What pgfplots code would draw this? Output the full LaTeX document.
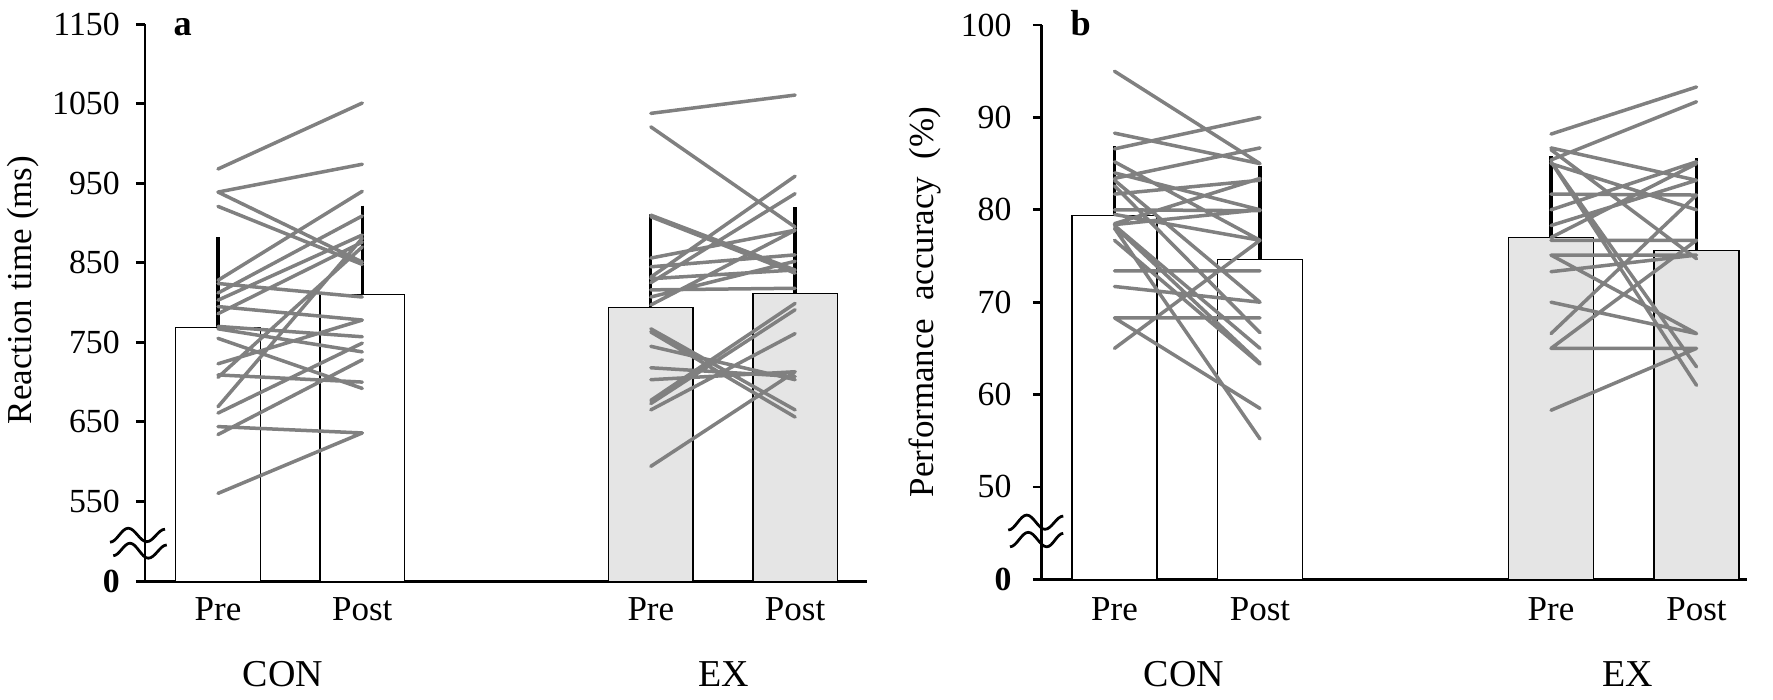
\documentclass[border=0pt]{standalone}
\usepackage{fontspec}
\setmainfont{Liberation Serif}
\usepackage{pgfplots}
\pgfplotsset{compat=1.18}

\definecolor{linegray}{RGB}{128,128,128}
\definecolor{exfill}{RGB}{229,229,229}

\pgfplotsset{
  panel/.style={
    scale only axis,
    anchor=south west,
    axis x line*=bottom, axis y line*=left,
    axis line style={line width=1.1pt, black, -},
    tick align=outside,
    major tick length=3.6pt,
    ytick style={line width=1.1pt, black},
    xtick={0,1,3,4},
    xticklabels={Pre,Post,Pre,Post},
    xtick style={draw=none},
    xticklabel style={font=\fontsize{14}{16}\selectfont, anchor=base, yshift=-12.1pt},
    yticklabel style={font=\fontsize{13.5}{15}\selectfont},
    clip mode=individual,
  },
  barstyle/.style={ybar, bar width=0.585, bar shift=0pt, draw=black, line width=0.5pt,
    error bars/y dir=plus, error bars/y explicit,
    error bars/error bar style={line width=1.3pt, black},
    error bars/error mark options={black, line width=1.3pt, mark size=1.8pt}},
  subj/.style={linegray, line width=1.4pt, line cap=round, unbounded coords=jump},
}

\begin{document}
\begin{tikzpicture}
\path[use as bounding box] (0,0) rectangle (709.2pt,279.6pt);

% ---------------- panel a ----------------
\begin{axis}[panel, at={(58pt,46.92pt)}, width=288.9pt, height=222.96pt,
  xmin=-0.506, xmax=4.5, ymin=448.9, ymax=1150,
  ytick={448.9,550,650,750,850,950,1050,1150},
  yticklabels={\textbf{0},550,650,750,850,950,1050,1150},
  yticklabel style={xshift=-3pt}]
\addplot[barstyle, fill=white] coordinates {(0,769) +- (0,107.5) (1,810) +- (0,106.4)};
\addplot[barstyle, fill=exfill] coordinates {(3,794) +- (0,112) (4,811) +- (0,103.3)};
% CON individual
\addplot[subj] coordinates {
(0,968) (1,1051) (0,nan)
(0,939) (1,974) (0,nan)
(0,939) (1,851) (0,nan)
(0,921) (1,848) (0,nan)
(0,828) (1,940) (0,nan)
(0,812) (1,909) (0,nan)
(0,824) (1,807) (0,nan)
(0,803) (1,885) (0,nan)
(0,786) (1,876) (0,nan)
(0,795) (1,778) (0,nan)
(0,770) (1,757) (0,nan)
(0,767) (1,738) (0,nan)
(0,755) (1,692) (0,nan)
(0,723) (1,778) (0,nan)
(0,709) (1,700) (0,nan)
(0,706) (1,870) (0,nan)
(0,669) (1,881) (0,nan)
(0,661) (1,749) (0,nan)
(0,644) (1,636) (0,nan)
(0,634) (1,728) (0,nan)
(0,560) (1,636)
};
% EX individual
\addplot[subj] coordinates {
(3,1038) (4,1061) (3,nan)
(3,1021) (4,895) (3,nan)
(3,910) (4,841) (3,nan)
(3,908) (4,837) (3,nan)
(3,856) (4,891) (3,nan)
(3,845) (4,860) (3,nan)
(3,832) (4,959) (3,nan)
(3,825) (4,937) (3,nan)
(3,830) (4,841) (3,nan)
(3,816) (4,818) (3,nan)
(3,807) (4,852) (3,nan)
(3,797) (4,891) (3,nan)
(3,767) (4,665) (3,nan)
(3,763) (4,656) (3,nan)
(3,745) (4,703) (3,nan)
(3,718) (4,707) (3,nan)
(3,703) (4,713) (3,nan)
(3,677) (4,799) (3,nan)
(3,673) (4,791) (3,nan)
(3,665) (4,761) (3,nan)
(3,594) (4,713)
};
\end{axis}

% ---------------- panel b ----------------
\begin{axis}[panel, at={(416.7pt,47.88pt)}, width=282.1pt, height=221.7pt,
  xmin=-0.5, xmax=4.347, ymin=40, ymax=100,
  ytick={40,50,60,70,80,90,100},
  yticklabels={\textbf{0},50,60,70,80,90,100},
  yticklabel style={xshift=-5pt},
  xticklabel style={yshift=-0.96pt}]
\addplot[barstyle, fill=white] coordinates {(0,79.4) +- (0,7.0) (1,74.6) +- (0,9.7)};
\addplot[barstyle, fill=exfill] coordinates {(3,77.0) +- (0,8.3) (4,75.6) +- (0,9.5)};
% CON individual
\addplot[subj] coordinates {
(0,95.0) (1,85.0) (0,nan)
(0,88.3) (1,85.0) (0,nan)
(0,86.6) (1,90.0) (0,nan)
(0,85.2) (1,76.7) (0,nan)
(0,84.0) (1,80.0) (0,nan)
(0,83.4) (1,86.7) (0,nan)
(0,83.2) (1,70.0) (0,nan)
(0,82.6) (1,66.7) (0,nan)
(0,81.7) (1,83.2) (0,nan)
(0,80.0) (1,79.9) (0,nan)
(0,78.5) (1,83.4) (0,nan)
(0,78.4) (1,80.0) (0,nan)
(0,78.3) (1,65.0) (0,nan)
(0,78.2) (1,63.4) (0,nan)
(0,78.0) (1,55.2) (0,nan)
(0,76.7) (1,63.3) (0,nan)
(0,73.4) (1,73.4) (0,nan)
(0,71.7) (1,70.0) (0,nan)
(0,68.3) (1,68.3) (0,nan)
(0,68.3) (1,58.5) (0,nan)
(0,65.0) (1,76.7) (0,nan)
(0,79.5) (1,76.7)
};
% EX individual
\addplot[subj] coordinates {
(3,88.2) (4,93.3) (3,nan)
(3,85.4) (4,91.7) (3,nan)
(3,86.7) (4,83.2) (3,nan)
(3,86.5) (4,74.7) (3,nan)
(3,85.2) (4,63.0) (3,nan)
(3,85.2) (4,61.0) (3,nan)
(3,85.0) (4,80.0) (3,nan)
(3,81.7) (4,81.6) (3,nan)
(3,80.0) (4,85.2) (3,nan)
(3,78.3) (4,83.2) (3,nan)
(3,77.0) (4,85.0) (3,nan)
(3,76.7) (4,76.7) (3,nan)
(3,75.1) (4,66.6) (3,nan)
(3,75.1) (4,75.1) (3,nan)
(3,73.3) (4,75.1) (3,nan)
(3,70.0) (4,66.6) (3,nan)
(3,66.6) (4,81.6) (3,nan)
(3,65.0) (4,65.0) (3,nan)
(3,65.0) (4,76.7) (3,nan)
(3,58.3) (4,65.0)
};
\end{axis}

% axis breaks
\begin{scope}[shift={(58pt,46.92pt)}, line width=1.1pt, x=1pt, y=1pt]
\draw (-14,15.8) cos (-10.35,18.6) sin (-6.7,21.4) cos (-3,18.7) sin (0.7,16) cos (4.35,18.5) sin (8,21);
\draw (-12.7,10.4) cos (-9.35,12.9) sin (-6,15.4) cos (-2.35,12.4) sin (1.3,9.4) cos (5,12) sin (8.7,14.7);
\end{scope}
\begin{scope}[shift={(416.7pt,47.88pt)}, line width=1.1pt, x=1pt, y=1pt]
\draw (-13.4,19.7) cos (-9.7,22.7) sin (-6,25.7) cos (-2.35,22.85) sin (1.3,20) cos (4.95,22.65) sin (8.6,25.3);
\draw (-12.7,13) cos (-9.05,15.9) sin (-5.4,18.8) cos (-1.7,15.9) sin (2,13) cos (5.3,15.7) sin (8.6,18.4);
\end{scope}

% y labels
\node[rotate=90, anchor=base, font=\fontsize{14}{16}\selectfont] at (12.8pt,163.6pt) {Reaction time (ms)};
\node[rotate=90, anchor=base, font=\fontsize{14}{16}\selectfont] at (373.2pt,158.8pt) {Performance\hspace{0.5em}accuracy\hspace{0.5em}(\%)};
% panel letters
\node[anchor=base west, font=\fontsize{14.5}{16}\selectfont\bfseries, inner sep=0pt] at (69.2pt,265.6pt) {a};
\node[anchor=base west, font=\fontsize{14.5}{16}\selectfont\bfseries, inner sep=0pt] at (428pt,265.6pt) {b};
% group labels
\node[anchor=base, font=\fontsize{15.2}{17}\selectfont, inner sep=0pt] at (113.2pt,4.9pt) {CON};
\node[anchor=base, font=\fontsize{15.2}{17}\selectfont, inner sep=0pt] at (289.6pt,4.9pt) {EX};
\node[anchor=base, font=\fontsize{15.2}{17}\selectfont, inner sep=0pt] at (473.6pt,4.9pt) {CON};
\node[anchor=base, font=\fontsize{15.2}{17}\selectfont, inner sep=0pt] at (651.2pt,4.9pt) {EX};
\end{tikzpicture}
\end{document}
